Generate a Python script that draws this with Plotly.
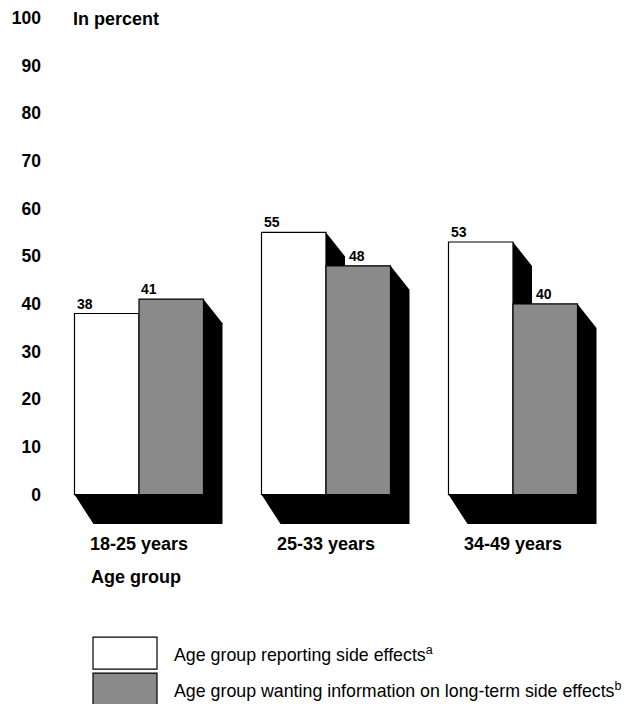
import plotly.graph_objects as go

# ---------------- data ----------------
categories = ["18-25 years", "25-33 years", "34-49 years"]
side_effects = [38, 55, 53]          # Age group reporting side effects (a)
want_info = [41, 48, 40]             # Age group wanting information on long-term side effects (b)
series_names = ["Age group reporting side effects", "Age group wanting information on long-term side effects"]
series_notes = ["a", "b"]
y_ticks = [0, 10, 20, 30, 40, 50, 60, 70, 80, 90, 100]

# ---------------- layout calibration (screen pixels) ----------------
W, H = 644, 704
OFF = 8                        # page body margin
L, R, T = 34, 12, 0            # figure margins
X0_PX, SLOT_PX = 139, 187      # centre of first group, distance between groups
Y0_PX, PX_PER_UNIT = 494, 4.78


def to_x(px):
    return (px - X0_PX) / SLOT_PX


def to_y(py):
    return (Y0_PX - py) / PX_PER_UNIT


BAR_W = 64.5 / SLOT_PX
SH_DX = 19 / SLOT_PX
SH_DY_TOP = 24 / PX_PER_UNIT
SH_DY_BOT = 29.5 / PX_PER_UNIT

FONT = "Liberation Sans, Arial, Helvetica, sans-serif"
GRAY = "#8a8a8a"

xs = list(range(len(categories)))

fig = go.Figure()
fig.add_trace(go.Bar(x=xs, y=side_effects, width=BAR_W, offset=-BAR_W,
                     marker=dict(color="white", line=dict(color="black", width=1.2)),
                     name=series_names[0], showlegend=False, hoverinfo="y"))
fig.add_trace(go.Bar(x=xs, y=want_info, width=BAR_W, offset=0,
                     marker=dict(color=GRAY, line=dict(color="black", width=1.2)),
                     name=series_names[1], showlegend=False, hoverinfo="y"))

# 3D black shadows behind each bar
shapes = []
for i in xs:
    for x0, top in ((i - BAR_W, side_effects[i]), (i, want_info[i])):
        x1 = x0 + BAR_W
        path = (f"M {x0},0 L {x0 + SH_DX},{-SH_DY_BOT} L {x1 + SH_DX},{-SH_DY_BOT} "
                f"L {x1 + SH_DX},{top - SH_DY_TOP} L {x1},{top} L {x0},{top} Z")
        shapes.append(dict(type="path", path=path, xref="x", yref="y", layer="below",
                           fillcolor="black", line=dict(color="black", width=0)))

annotations = []
# value labels
for i in xs:
    annotations.append(dict(x=i - BAR_W, y=side_effects[i], text=str(side_effects[i]),
                            xanchor="left", yanchor="bottom", showarrow=False,
                            font=dict(family=FONT, size=14, color="black", weight="bold")))
    shift = SH_DX + 2 / SLOT_PX if side_effects[i] > want_info[i] else 0
    annotations.append(dict(x=i + shift, y=want_info[i], text=str(want_info[i]),
                            xanchor="left", yanchor="bottom", showarrow=False,
                            font=dict(family=FONT, size=14, color="black", weight="bold")))

# axis titles
annotations.append(dict(x=to_x(71), y=to_y(17), text="In percent", xanchor="left", yanchor="middle",
                        showarrow=False, font=dict(family=FONT, size=18, color="black", weight="bold")))
annotations.append(dict(x=to_x(89), y=to_y(577), text="Age group", xanchor="left", yanchor="middle",
                        showarrow=False, font=dict(family=FONT, size=18, color="black", weight="bold")))

# custom legend
legend_fill = ["white", GRAY]
legend_top = [637, 673]
for k in range(2):
    shapes.append(dict(type="rect", xref="x", yref="y",
                       x0=to_x(93), x1=to_x(157), y0=to_y(legend_top[k]), y1=to_y(legend_top[k] + 32),
                       fillcolor=legend_fill[k], line=dict(color="black", width=1.2)))
    annotations.append(dict(x=to_x(172), y=to_y(legend_top[k] + 17),
                            text=f"{series_names[k]}<sup>{series_notes[k]}</sup>",
                            xanchor="left", yanchor="middle", showarrow=False,
                            font=dict(family=FONT, size=17.8, color="black")))

fig.update_layout(
    width=W, height=H,
    margin=dict(l=L, r=R, t=T, b=0),
    paper_bgcolor="white", plot_bgcolor="white",
    barmode="overlay",
    shapes=shapes, annotations=annotations,
    xaxis=dict(range=[to_x(L + OFF), to_x(W - R + OFF)], tickvals=xs, ticktext=categories,
               anchor="free", position=1 - 522 / H,
               showgrid=False, zeroline=False, showline=False, ticks="",
               tickfont=dict(family=FONT, size=18, color="black", weight="bold")),
    yaxis=dict(range=[to_y(H + OFF), to_y(T + OFF)], tickvals=y_ticks,
               ticklabeloverflow="allow",
               showgrid=False, zeroline=False, showline=False, ticks="",
               tickfont=dict(family=FONT, size=17.5, color="black", weight="bold")),
)

fig.write_html("out.html")
